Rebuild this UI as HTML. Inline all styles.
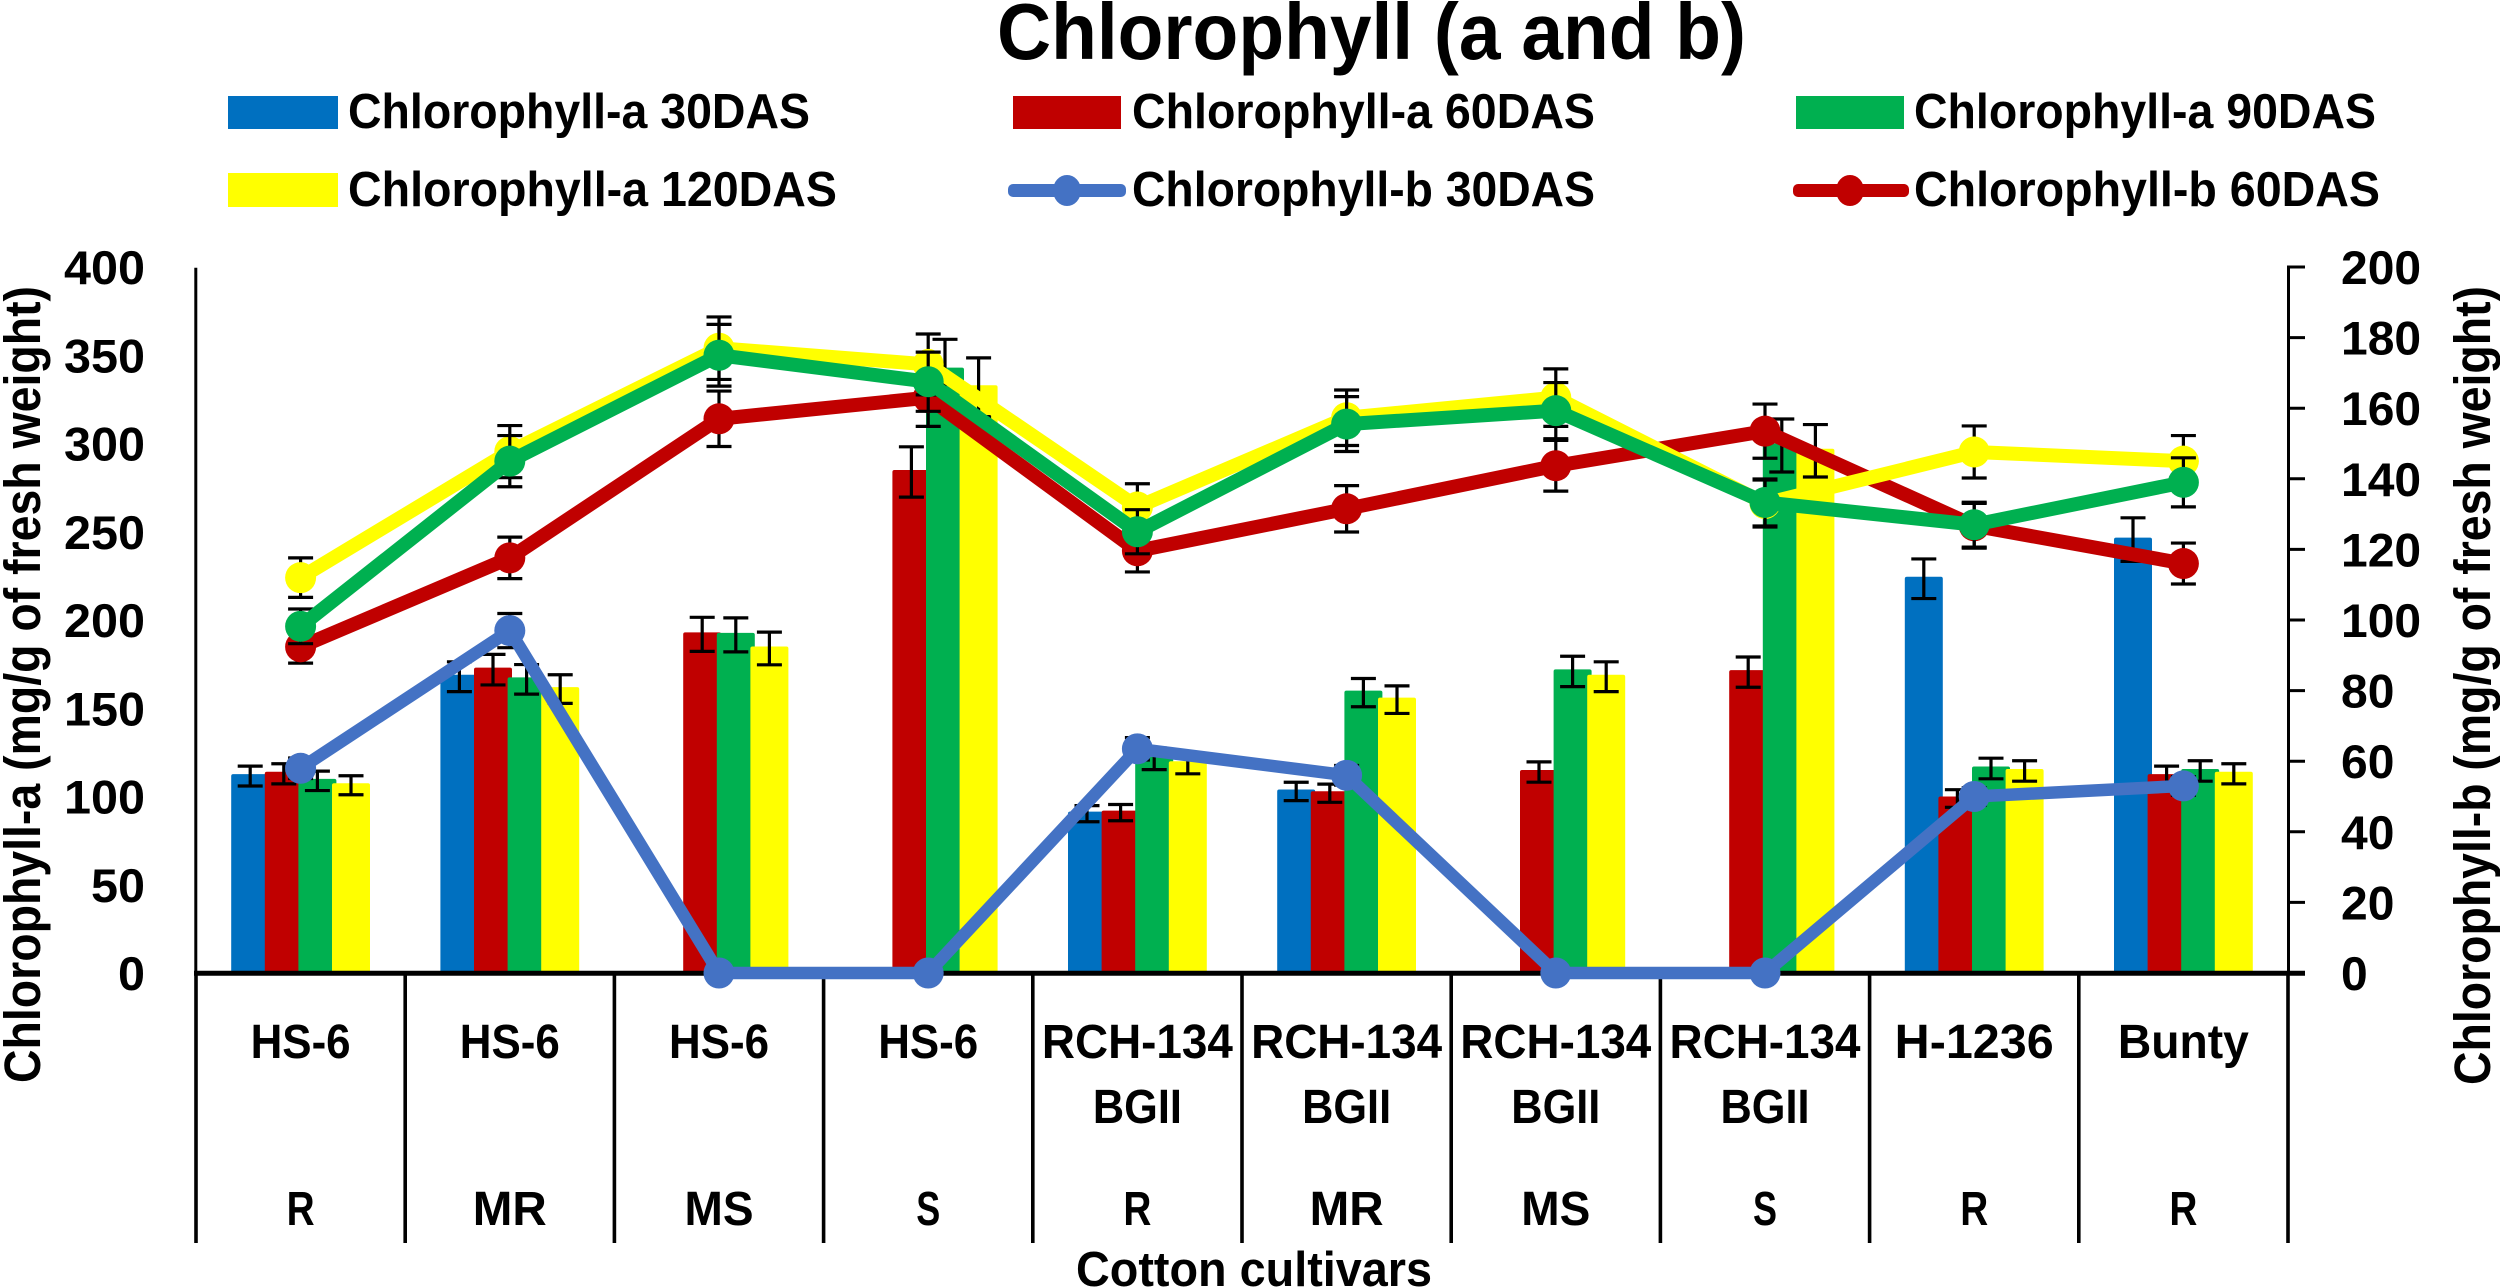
<!DOCTYPE html>
<html lang="en">
<head>
<meta charset="utf-8">
<title>Chlorophyll (a and b)</title>
<style>
html,body{margin:0;padding:0;background:#fff;width:2500px;height:1287px;overflow:hidden}
svg{display:block}
text{font-family:"Liberation Sans",sans-serif;font-weight:700;fill:#000}
</style>
</head>
<body>
<svg id="chart" xmlns="http://www.w3.org/2000/svg" width="2500" height="1287" viewBox="0 0 2500 1287">
  <rect x="0" y="0" width="2500" height="1287" fill="#fff"/>
  <text x="997" y="59" font-size="80" textLength="749" lengthAdjust="spacingAndGlyphs">Chlorophyll (a and b)</text>

  <g>
    <g>
      <rect x="228" y="96" width="110" height="33" fill="#0070C0"/>
      <text x="348" y="128" font-size="49" textLength="462" lengthAdjust="spacingAndGlyphs">Chlorophyll-a 30DAS</text>
    </g>
    <g>
      <rect x="1013" y="96" width="108" height="33" fill="#C00000"/>
      <text x="1132" y="128" font-size="49" textLength="463" lengthAdjust="spacingAndGlyphs">Chlorophyll-a 60DAS</text>
    </g>
    <g>
      <rect x="1796" y="96" width="108" height="33" fill="#00B050"/>
      <text x="1914" y="128" font-size="49" textLength="462" lengthAdjust="spacingAndGlyphs">Chlorophyll-a 90DAS</text>
    </g>
    <g>
      <rect x="228" y="173" width="110" height="34" fill="#FFFF00"/>
      <text x="348" y="206" font-size="49" textLength="489" lengthAdjust="spacingAndGlyphs">Chlorophyll-a 120DAS</text>
    </g>
    <g>
      <rect x="1008" y="184" width="118" height="13" rx="5" fill="#4472C4"/>
      <ellipse cx="1067" cy="190.5" rx="14" ry="15.5" fill="#4472C4"/>
      <text x="1132" y="206" font-size="49" textLength="463" lengthAdjust="spacingAndGlyphs">Chlorophyll-b 30DAS</text>
    </g>
    <g>
      <rect x="1793" y="184" width="116" height="13" rx="5" fill="#C00000"/>
      <ellipse cx="1850" cy="190.5" rx="14" ry="15.5" fill="#C00000"/>
      <text x="1914" y="206" font-size="49" textLength="466" lengthAdjust="spacingAndGlyphs">Chlorophyll-b 60DAS</text>
    </g>
  </g>

  <text transform="translate(40 1083) rotate(-90)" x="0" y="0" font-size="51" textLength="797" lengthAdjust="spacingAndGlyphs">Chlorophyll-a (mg/g of fresh weight)</text>
  <text transform="translate(2490 1085) rotate(-90)" x="0" y="0" font-size="51" textLength="799" lengthAdjust="spacingAndGlyphs">Chlorophyll-b (mg/g of fresh weight)</text>
  <text x="1076" y="1286" font-size="49" textLength="356" lengthAdjust="spacingAndGlyphs">Cotton cultivars</text>

  <g id="bars"></g>
  <g id="lines"></g>
  <g id="axes"></g>
  <g id="blue-top"></g>
</svg>

<script>
/* ---------- chart data ---------- */
const cultivars = ["HS-6","HS-6","HS-6","HS-6","RCH-134","RCH-134","RCH-134","RCH-134","H-1236","Bunty"];
const cultivarLine2 = ["","","","","BGII","BGII","BGII","BGII","",""];
const resistance = ["R","MR","MS","S","R","MR","MS","S","R","R"];

const chlA30 = [112.7,169,0,0,91.4,104,0,0,224.5,246.7];
const chlA60 = [114,173,193,285,92,103,115,171.6,100,112.7];
const chlA90 = [110,167.5,192.7,343,122.5,160,172,300,117,115.6];
const chlA120 = [107.5,162,185,333,120,156,169,297,115.6,114];

const chlB30 = [58,97,0,0,63.5,56,0,0,50,53];
const chlB60 = [92.4,117.6,157,163,119.6,131.5,143.7,153.5,126.7,116];
const chlB90 = [98.2,145,175,167.5,125,155.5,159.3,133.3,127,139];
const chlB120 = [112,147.7,177,172.4,132,157.3,163,133,147.6,145];

const leftTicks = [0,50,100,150,200,250,300,350,400];
const rightTicks = [0,20,40,60,80,100,120,140,160,180,200];
const errorFraction = 0.05;

/* ---------- axis functions ---------- */
const plotLeft = 196, plotRight = 2288, plotBottom = 973, plotTop = 267;
const leftMax = 400, rightMax = 200;
const catWidth = (plotRight - plotLeft) / cultivars.length;
function xCenter(i){ return plotLeft + catWidth * (i + 0.5); }
function xEdge(i){ return plotLeft + catWidth * i; }
function yLeft(v){ return plotBottom - (plotBottom - plotTop) * v / leftMax; }
function yRight(v){ return plotBottom - (plotBottom - plotTop) * v / rightMax; }

const NS = "http://www.w3.org/2000/svg";
function make(tag, props, parent){
  const el = document.createElementNS(NS, tag);
  for (const k in props) el.setAttribute(k, props[k]);
  parent.appendChild(el);
  return el;
}

const barsG = document.getElementById("bars");
const linesG = document.getElementById("lines");
const axesG = document.getElementById("axes");

/* ---------- bars ---------- */
const barSeries = [
  {key:"chl-a-30das", values:chlA30, color:"#0070C0"},
  {key:"chl-a-60das", values:chlA60, color:"#C00000"},
  {key:"chl-a-90das", values:chlA90, color:"#00B050"},
  {key:"chl-a-120das", values:chlA120, color:"#FFFF00"}
];
const barStep = 33.6, barWidth = 38, barErrorShift = 2;
function errorBar(parent, x, yHi, yLo, name){
  const g = make("g", {stroke:"#000", "stroke-width":3.2, fill:"none"}, parent);
  
  
  make("path", {d:`M${x} ${yHi}V${yLo}M${x-12.5} ${yHi}H${x+12.5}M${x-12.5} ${yLo}H${x+12.5}`}, g);
}
barSeries.forEach(function(s, si){
  s.values.forEach(function(v, i){
    if (v <= 0) return;
    const x = xCenter(i) - (barStep * 3 + barWidth) / 2 + barStep * si;
    const bar = make("rect", {x:x, y:yLeft(v), width:barWidth, height:plotBottom - yLeft(v), rx:2, fill:s.color}, barsG);
    
    
  });
});
barSeries.forEach(function(s, si){
  s.values.forEach(function(v, i){
    if (v <= 0) return;
    const cx = xCenter(i) - (barStep * 3 + barWidth) / 2 + barStep * si + barWidth / 2;
    errorBar(barsG, cx, yLeft(v * (1 + errorFraction)) + barErrorShift, yLeft(v * (1 - errorFraction)) + barErrorShift, 'error-bar-' + s.key + '-' + (i + 1));
  });
});

/* ---------- lines ---------- */
const lineSeries = [
  {key:"chl-b-30das", values:chlB30, color:"#4472C4", width:12.5},
  {key:"chl-b-60das", values:chlB60, color:"#C00000", width:14},
  {key:"chl-b-120das", values:chlB120, color:"#FFFF00", width:14},
  {key:"chl-b-90das", values:chlB90, color:"#00B050", width:14}
];
function drawLine(s, parent){
  s.values.forEach(function(v, i){
    if (v <= 0) return;
    errorBar(parent, xCenter(i), yRight(v * (1 + errorFraction)), yRight(v * (1 - errorFraction)), 'error-bar-' + s.key + '-' + (i + 1));
  });
  const pts = s.values.map(function(v, i){ return xCenter(i) + "," + yRight(v); }).join(" ");
  const line = make("polyline", {points:pts, fill:"none", stroke:s.color, "stroke-width":s.width, "stroke-linejoin":"round"}, parent);
  
  
  s.values.forEach(function(v, i){
    const m = make("ellipse", {cx:xCenter(i), cy:yRight(v), rx:15.5, ry:15.5, fill:s.color}, parent);
    
    
  });
}
lineSeries.slice(1).forEach(function(s){ drawLine(s, linesG); });

/* ---------- axes ---------- */
const leftAxis = make("line", {x1:195.8, x2:195.8, y1:267.7, y2:plotBottom, stroke:"#000", "stroke-width":3}, axesG);



const rightAxis = make("line", {x1:2288.5, x2:2288.5, y1:plotTop - 1.5, y2:plotBottom, stroke:"#000", "stroke-width":3}, axesG);



const baseAxis = make("line", {x1:plotLeft - 2, x2:2305, y1:plotBottom + 0.3, y2:plotBottom + 0.3, stroke:"#000", "stroke-width":5}, axesG);



leftTicks.forEach(function(t){
  const s = String(t);
  const label = make("text", {x:145, y:yLeft(t) + 17, "font-size":47, "text-anchor":"end", textLength:s.length * 27, lengthAdjust:"spacingAndGlyphs"}, axesG);
  label.textContent = s;
  
  
});

rightTicks.forEach(function(t){
  const s = String(t);
  const tick = make("line", {x1:2288, x2:2305, y1:yRight(t), y2:yRight(t), stroke:"#000", "stroke-width":3}, axesG);
  
  
  const label = make("text", {x:2341, y:yRight(t) + 17, "font-size":47, textLength:s.length * 26.7, lengthAdjust:"spacingAndGlyphs"}, axesG);
  label.textContent = s;
  
  
});

for (let i = 0; i <= cultivars.length; i++){
  const sep = make("line", {x1:xEdge(i), x2:xEdge(i), y1:plotBottom, y2:1243, stroke:"#000", "stroke-width":3.6}, axesG);
  
  
}

/* category labels: width per glyph tuned to match the condensed reference face */
function labelWidth(s){
  const w = {"HS-6":100,"RCH-134":191,"BGII":89,"H-1236":159,"Bunty":131,"R":28,"MR":74,"MS":69,"S":24};
  return w[s];
}
function catLabel(text, i, y, name){
  if (!text) return;
  const t = make("text", {x:xCenter(i), y:y, "font-size":48, "text-anchor":"middle", textLength:labelWidth(text), lengthAdjust:"spacingAndGlyphs"}, axesG);
  t.textContent = text;
  
  
}
cultivars.forEach(function(c, i){ catLabel(c, i, 1058, 'cultivar-label'); });
cultivarLine2.forEach(function(c, i){ catLabel(c, i, 1123, 'cultivar-label-line2'); });
resistance.forEach(function(c, i){ catLabel(c, i, 1225, 'resistance-label'); });

/* blue series sits over the axis line at zero */
drawLine(lineSeries[0], document.getElementById("blue-top"));
</script>
</body>
</html>
